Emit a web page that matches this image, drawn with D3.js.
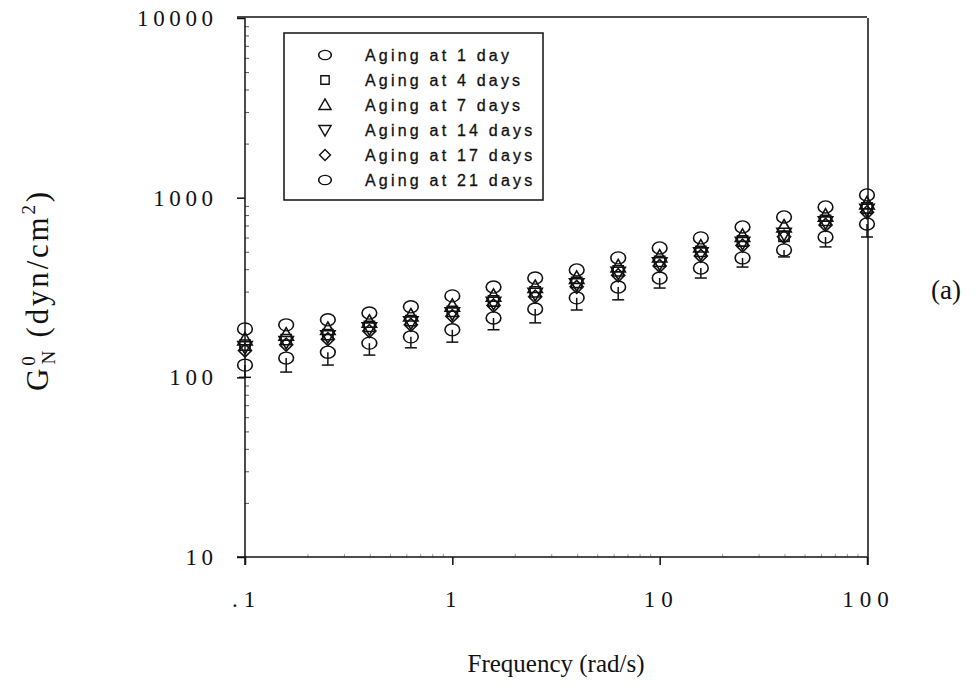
<!DOCTYPE html>
<html>
<head>
<meta charset="utf-8">
<script src="https://cdn.jsdelivr.net/npm/d3@7"></script>
<style>
  html, body { margin: 0; padding: 0; background: #fff; }
  svg { display: block; }
</style>
</head>
<body>
<svg id="chart" width="977" height="685"></svg>
<script>
// Oscillation frequencies (rad/s)
const freq = [0.1, 0.158, 0.251, 0.398, 0.631, 1, 1.58, 2.51, 3.98, 6.31, 10, 15.8, 25.1, 39.8, 63.1, 100];

// Plateau modulus G0N (dyn/cm2) for each aging time
const day1  = [186, 196, 209, 228, 247, 284, 318, 357, 396, 462, 525, 597, 687, 781, 888, 1035];
const day4  = [151, 162, 173, 192, 207, 233, 266, 299, 337, 391, 442, 502, 574, 610, 747, 876];
const day7  = [162, 172, 185, 203, 220, 249, 283, 317, 356, 413, 468, 532, 610, 688, 791, 926];
const day14 = [148, 158, 170, 188, 203, 228, 261, 293, 331, 384, 433, 492, 563, 632, 732, 860];
const day17 = [141, 152, 163, 181, 196, 219, 251, 281, 319, 370, 417, 474, 541, 606, 705, 829];
const day21 = [117, 128, 138, 155, 168, 184, 214, 240, 277, 318, 357, 406, 462, 512, 604, 714];
// lower error of the 21-day series
const err21 = [17, 21, 21, 22, 22, 27, 30, 39, 40, 48, 43, 49, 51, 44, 72, 110];

const seriesNames = ["Aging at 1 day", "Aging at 4 days", "Aging at 7 days",
                     "Aging at 14 days", "Aging at 17 days", "Aging at 21 days"];
const yTickValues = [10, 100, 1000, 10000];
const yTickLabels = ["10", "100", "1000", "10000"];
const xTickValues = [0.1, 1, 10, 100];
const xTickLabels = [".1", "1", "10", "100"];

const ink = "#111";
const svg = d3.select("#chart");

const plotL = 245, plotR = 867, plotT = 18, plotB = 557;
const x = d3.scaleLog().domain([0.1, 100]).range([plotL, plotR]);
const y = d3.scaleLog().domain([10, 10000]).range([plotB, plotT]);

// frame: top and right edges
svg.append("line").attr("x1", plotL - 8).attr("x2", plotR).attr("y1", plotT - 1).attr("y2", plotT - 1)
  .attr("stroke", ink).attr("stroke-width", 1.5);
svg.append("line").attr("x1", plotR + 1).attr("x2", plotR + 1).attr("y1", plotT).attr("y2", plotB + 8)
  .attr("stroke", ink).attr("stroke-width", 1.5);

// minor ticks (inward)
const yMinor = y.ticks().filter(v => !yTickValues.includes(v));
svg.append("g").attr("transform", `translate(${plotL},0)`)
  .call(d3.axisLeft(y).tickValues(yMinor).tickSize(-4).tickFormat(""))
  .call(g => g.select(".domain").remove())
  .call(g => g.selectAll("line").attr("stroke", "#555").attr("stroke-width", 1));
const xMinor = x.ticks().filter(v => !xTickValues.some(t => Math.abs(t - v) < 1e-9));
svg.append("g").attr("transform", `translate(0,${plotB})`)
  .call(d3.axisBottom(x).tickValues(xMinor).tickSize(-3).tickFormat(""))
  .call(g => g.select(".domain").remove())
  .call(g => g.selectAll("line").attr("stroke", "#999").attr("stroke-width", 1));

// y axis
const ySpace = 4.6;
const yAxis = svg.append("g").attr("transform", `translate(${plotL},0)`)
  .call(d3.axisLeft(y).tickValues(yTickValues).tickSize(8).tickPadding(22)
        .tickFormat((d, i) => yTickLabels[i]));
yAxis.select(".domain").attr("d", `M0,${plotT}V${plotB + 8}`);
yAxis.selectAll("path, line").attr("stroke", ink).attr("stroke-width", 1.5);
yAxis.selectAll("text")
  .attr("font-family", "'Liberation Serif', serif").attr("font-size", 23)
  .attr("letter-spacing", ySpace).attr("fill", ink).attr("dx", ySpace - 2);

// x axis
const xSpace = 6;
const xAxis = svg.append("g").attr("transform", `translate(0,${plotB})`)
  .call(d3.axisBottom(x).tickValues(xTickValues).tickSize(8).tickPadding(26)
        .tickFormat((d, i) => xTickLabels[i]));
xAxis.select(".domain").attr("d", `M${plotL - 8},0H${plotR}`);
xAxis.selectAll("path, line").attr("stroke", ink).attr("stroke-width", 1.5);
xAxis.selectAll("text")
  .attr("font-family", "'Liberation Serif', serif").attr("font-size", 23)
  .attr("letter-spacing", xSpace).attr("fill", ink).attr("dx", xSpace / 2 - 2);

// marker shapes
const circleSym = d3.symbol().type(d3.symbolCircle).size(170)();
const squareSym = d3.symbol().type(d3.symbolSquare).size(105)();
const triSym = d3.symbol().type(d3.symbolTriangle).size(90)();
const diaSym = d3.symbol().type(d3.symbolSquare).size(85)();

const shapes = [
  { path: circleSym, tf: "scale(1,0.82)" },
  { path: squareSym, tf: "" },
  { path: triSym, tf: "translate(0,1)" },
  { path: triSym, tf: "rotate(180) translate(0,1)" },
  { path: diaSym, tf: "rotate(45)" },
  { path: circleSym, tf: "scale(1,0.82)" }
];
const series = [day1, day4, day7, day14, day17, day21];

// error bars for the 21-day series (lower side)
const eb = svg.append("g").attr("stroke", ink).attr("stroke-width", 1.5);
freq.forEach((f, i) => {
  const cx = x(f), y0 = y(day21[i]), y1 = y(day21[i] - err21[i]);
  eb.append("line").attr("x1", cx).attr("x2", cx).attr("y1", y0).attr("y2", y1);
  eb.append("line").attr("x1", cx - 6).attr("x2", cx + 6).attr("y1", y1).attr("y2", y1);
});

// data points
series.forEach((vals, s) => {
  svg.append("g").selectAll("path").data(vals).join("path")
    .attr("d", shapes[s].path)
    .attr("transform", (v, i) => `translate(${x(freq[i])},${y(v)}) ${shapes[s].tf}`)
    .attr("fill", "none").attr("stroke", ink).attr("stroke-width", 1.6);
});

// legend
const lg = svg.append("g");
lg.append("rect").attr("x", 284).attr("y", 33).attr("width", 259).attr("height", 167)
  .attr("fill", "#fff").attr("stroke", ink).attr("stroke-width", 1.5);
const legendShapes = [
  { path: d3.symbol().type(d3.symbolCircle).size(95)(), tf: "scale(1.15,0.85)" },
  { path: d3.symbol().type(d3.symbolSquare).size(70)(), tf: "" },
  { path: d3.symbol().type(d3.symbolTriangle).size(65)(), tf: "translate(0,1)" },
  { path: d3.symbol().type(d3.symbolTriangle).size(65)(), tf: "rotate(180) translate(0,1)" },
  { path: d3.symbol().type(d3.symbolSquare).size(60)(), tf: "rotate(45)" },
  { path: d3.symbol().type(d3.symbolCircle).size(95)(), tf: "scale(1.15,0.85)" }
];
seriesNames.forEach((name, i) => {
  const ry = 55 + i * 25;
  lg.append("path").attr("d", legendShapes[i].path)
    .attr("transform", `translate(325,${ry}) ${legendShapes[i].tf}`)
    .attr("fill", "none").attr("stroke", ink).attr("stroke-width", 1.4);
  lg.append("text").attr("x", 365).attr("y", ry + 6).text(name)
    .attr("font-family", "'Liberation Sans', Arial, sans-serif").attr("font-size", 16)
    .attr("letter-spacing", 3.2).attr("fill", ink)
    .attr("stroke", ink).attr("stroke-width", 0.3);
});

// axis titles
svg.append("text").attr("x", 556).attr("y", 672).attr("text-anchor", "middle")
  .attr("font-family", "'Liberation Serif', serif").attr("font-size", 25).attr("fill", ink)
  .text("Frequency (rad/s)");

const yt = svg.append("text").attr("transform", "translate(48,290) rotate(-90)")
  .attr("text-anchor", "middle")
  .attr("font-family", "'Liberation Serif', serif").attr("font-size", 31)
  .attr("letter-spacing", 2.8).attr("fill", ink);
yt.append("tspan").text("G");
yt.append("tspan").attr("font-size", 19).attr("dy", -13).text("0");
yt.append("tspan").attr("font-size", 19).attr("dx", -11).attr("dy", 20).text("N");
yt.append("tspan").attr("dy", -7).text(" (dyn/cm");
yt.append("tspan").attr("font-size", 19).attr("dy", -13).text("2");
yt.append("tspan").attr("dy", 13).text(")");

svg.append("text").attr("x", 946).attr("y", 299).attr("text-anchor", "middle")
  .attr("font-family", "'Liberation Serif', serif").attr("font-size", 27).attr("fill", ink)
  .text("(a)");
</script>
</body>
</html>
